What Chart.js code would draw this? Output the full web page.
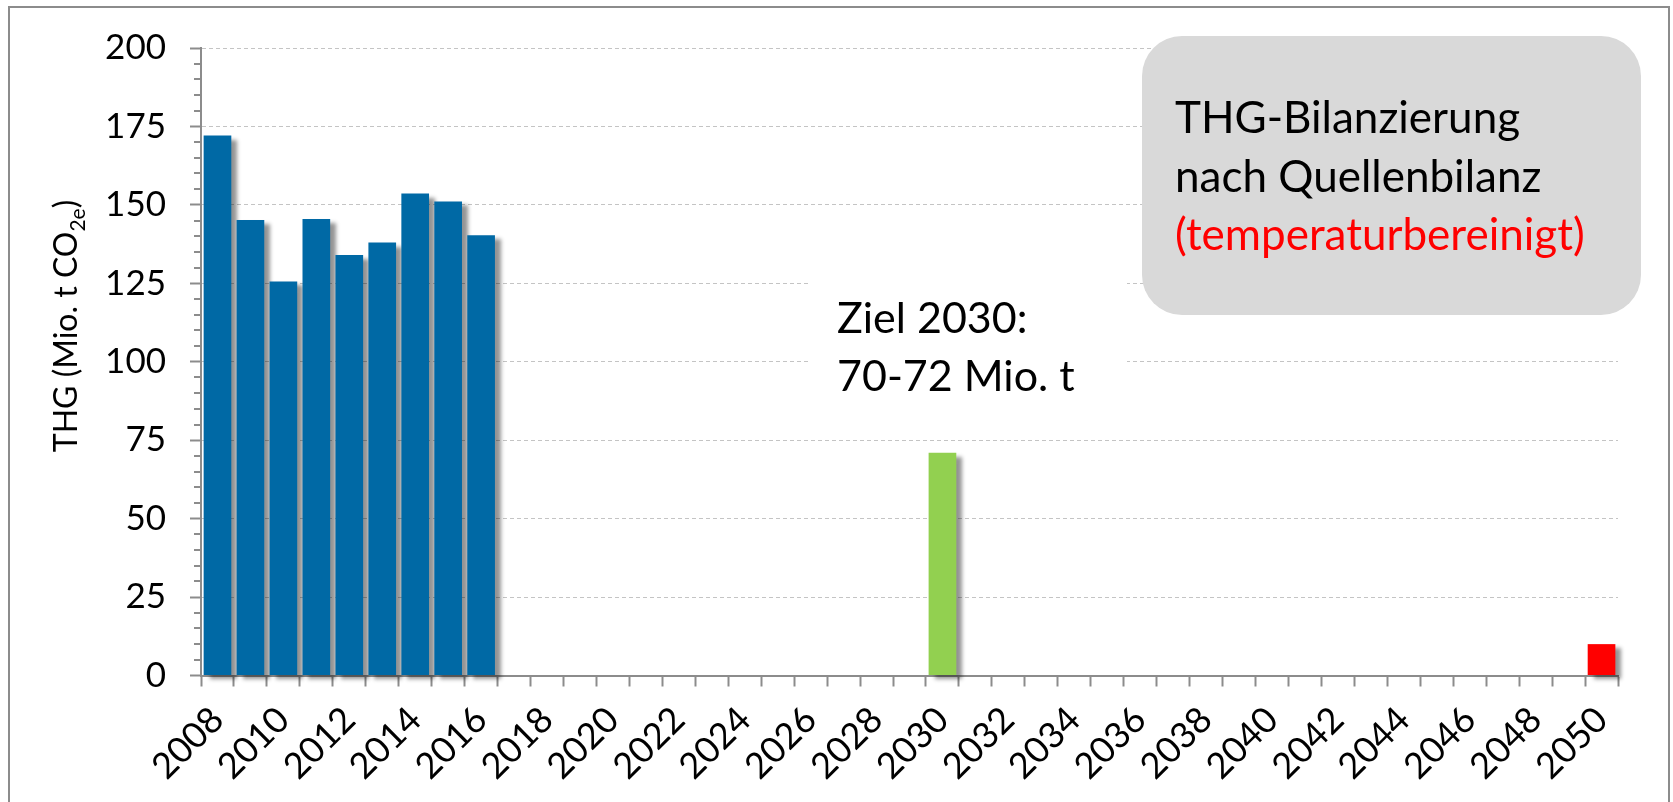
<!DOCTYPE html>
<html><head><meta charset="utf-8">
<script src="https://cdn.jsdelivr.net/npm/chart.js@4/dist/chart.umd.min.js"></script>
<style>
html,body{margin:0;padding:0;background:#fff;width:1673px;height:802px;overflow:hidden}
#frame{position:absolute;left:8px;top:6px;width:1662px;height:900px;border:2px solid #8c8c8c;box-sizing:border-box;background:#fff}
#c{position:absolute;left:0;top:0}
</style></head><body>
<div id="frame"></div>
<canvas id="c" width="1673" height="802"></canvas>
<script>
// ---- data ----
const years = ['2008','2009','2010','2011','2012','2013','2014','2015','2016','2017','2018','2019','2020',
  '2021','2022','2023','2024','2025','2026','2027','2028','2029','2030','2031','2032','2033','2034','2035',
  '2036','2037','2038','2039','2040','2041','2042','2043','2044','2045','2046','2047','2048','2049','2050'];
const xTickLabels = ['2008','2010','2012','2014','2016','2018','2020','2022','2024','2026','2028','2030',
  '2032','2034','2036','2038','2040','2042','2044','2046','2048','2050'];
const historicYears = ['2008','2009','2010','2011','2012','2013','2014','2015','2016'];
const historicValues = [172.1, 145.2, 125.6, 145.5, 134.0, 138.0, 153.6, 151.1, 140.3];
const target2030Years = ['2030'];
const target2030Values = [71];
const target2050Years = ['2050'];
const target2050Values = [10];
const yTickValues = [0, 25, 50, 75, 100, 125, 150, 175, 200];
const yAxisTitle = ['THG (Mio. t CO', '2e', ')'];
const boxLines = ['THG-Bilanzierung', 'nach Quellenbilanz', '(temperaturbereinigt)'];
const zielLines = ['Ziel 2030:', '70-72 Mio. t'];

const FONT = 'Lato';
const AXIS = '#8c8c8c';

function pts(xs, vs){ return xs.map((x,i)=>({x:x, y:vs[i]})); }

const shadowPlugin = {
  id:'shadow',
  beforeDatasetsDraw(chart){
    const ctx = chart.ctx; ctx.save();
    ctx.shadowColor = 'rgba(0,0,0,0.42)';
    ctx.shadowBlur = 4; ctx.shadowOffsetX = 6; ctx.shadowOffsetY = 4;
  },
  afterDatasetsDraw(chart){ chart.ctx.restore(); }
};

const decoPlugin = {
  id:'deco',
  afterDraw(chart){
    const ctx = chart.ctx;
    const ys = chart.scales.y;
    const left = chart.chartArea.left;
    // minor ticks every 5
    ctx.save();
    ctx.strokeStyle = AXIS; ctx.lineWidth = 2;
    for (let v = ys.min; v <= ys.max; v += 5) {
      if (yTickValues.includes(v)) continue;
      const y = Math.round(ys.getPixelForValue(v));
      ctx.beginPath(); ctx.moveTo(left - 7, y); ctx.lineTo(left, y); ctx.stroke();
    }
    ctx.restore();

    // y axis title with subscript
    ctx.save();
    ctx.translate(77, 326); ctx.rotate(-Math.PI/2);
    ctx.fillStyle = '#000'; ctx.textBaseline = 'alphabetic';
    const fMain = '32px ' + FONT, fSub = '21px ' + FONT;
    ctx.font = fMain; const w0 = ctx.measureText(yAxisTitle[0]).width;
    const w2 = ctx.measureText(yAxisTitle[2]).width;
    ctx.font = fSub; const w1 = ctx.measureText(yAxisTitle[1]).width;
    let x = -(w0 + w1 + w2)/2;
    ctx.font = fMain; ctx.fillText(yAxisTitle[0], x, 0); x += w0;
    ctx.font = fSub; ctx.fillText(yAxisTitle[1], x, 8); x += w1;
    ctx.font = fMain; ctx.fillText(yAxisTitle[2], x, 0);
    ctx.restore();

    // Ziel annotation (white text box)
    ctx.save();
    ctx.fillStyle = '#fff';
    ctx.fillRect(808, 276, 319, 140);
    ctx.fillStyle = '#000'; ctx.font = '43px ' + FONT; ctx.textBaseline = 'alphabetic';
    ctx.fillText(zielLines[0], 837, 333);
    ctx.fillText(zielLines[1], 837, 391);
    ctx.restore();

    // grey rounded info box
    ctx.save();
    ctx.fillStyle = '#d9d9d9';
    ctx.beginPath();
    ctx.roundRect(1142, 36, 499, 279, 40);
    ctx.fill();
    ctx.font = '44px ' + FONT; ctx.textBaseline = 'alphabetic';
    ctx.fillStyle = '#000';
    ctx.fillText(boxLines[0], 1175, 133);
    ctx.fillText(boxLines[1], 1175, 192);
    ctx.fillStyle = '#ff0000';
    ctx.fillText(boxLines[2], 1175, 250);
    ctx.restore();
  }
};

new Chart(document.getElementById('c'), {
  type:'bar',
  data:{
    labels: years,
    datasets:[
      {label:'Ist', data: pts(historicYears, historicValues), backgroundColor:'#0069a5'},
      {label:'Ziel 2030', data: pts(target2030Years, target2030Values), backgroundColor:'#92d050'},
      {label:'Ziel 2050', data: pts(target2050Years, target2050Values), backgroundColor:'#ff0000'}
    ]
  },
  options:{
    responsive:false, animation:false, devicePixelRatio:1,
    datasets:{bar:{grouped:false, barPercentage:0.84, categoryPercentage:1, clip:false, borderWidth:0}},
    layout:{padding:{left:0, top:48, right:55, bottom:0}},
    plugins:{legend:{display:false}, tooltip:{enabled:false}},
    scales:{
      x:{
        type:'category', offset:true,
        grid:{offset:true, drawOnChartArea:false, drawTicks:true, tickLength:11, tickColor:AXIS, tickWidth:2, color:AXIS},
        border:{color:AXIS, width:2},
        ticks:{autoSkip:false, maxRotation:45, minRotation:45, padding:12, color:'#000',
          font:{family:FONT, size:36},
          callback:function(v, i){ const l = this.getLabelForValue(v); return xTickLabels.includes(l) ? l : ''; }},
        afterFit:(s)=>{ s.height = 126.5; }
      },
      y:{
        min:0, max:200,
        afterBuildTicks:(s)=>{ s.ticks = yTickValues.map(v=>({value:v})); },
        grid:{drawTicks:true, tickLength:11, tickColor:AXIS, tickWidth:2, lineWidth:1,
          color:(c)=> (c.tick && c.tick.value > 0) ? '#c4c4c4' : 'rgba(0,0,0,0)', tickBorderDash:[]},
        border:{color:AXIS, width:2, dash:[4,3]},
        ticks:{padding:24, color:'#000', font:{family:FONT, size:35}},
        afterFit:(s)=>{ s.width = 201; }
      }
    }
  },
  plugins:[shadowPlugin, decoPlugin]
});
</script>
</body></html>
